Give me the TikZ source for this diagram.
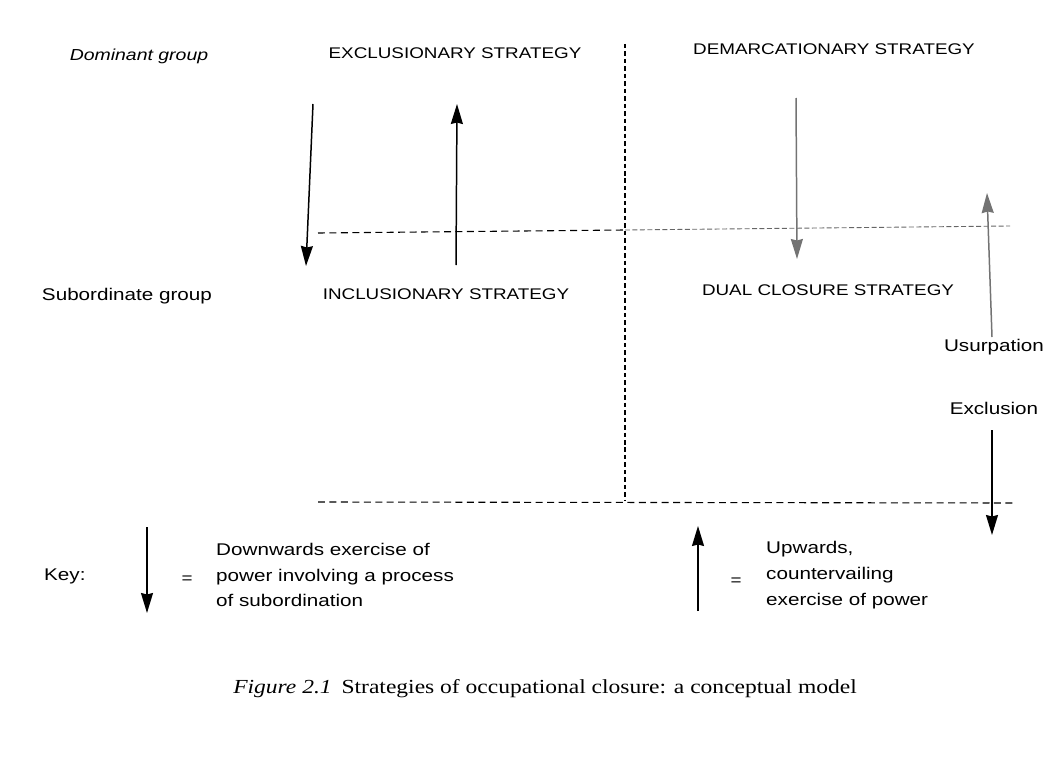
\documentclass[tikz,border=0pt]{standalone}
\usepackage{fontspec}
\setmainfont{Liberation Sans}[FakeStretch=1.22]
\newfontfamily\capfont{Liberation Serif}[FakeStretch=1.18]
\usetikzlibrary{arrows.meta}
\begin{document}
\begin{tikzpicture}[x=1bp,y=-1bp,
  head/.style={inner sep=0pt, font=\fontsize{15.5}{18}\selectfont},
  lbl/.style={inner sep=0pt, font=\fontsize{17}{20}\selectfont},
  keytxt/.style={inner sep=0pt, align=left, anchor=west, font=\fontsize{17}{26}\selectfont},
  divider/.style={line width=1.1pt, dash pattern=on 7pt off 4.5pt},
  vdivider/.style={line width=1.1pt, dash pattern=on 4.5pt off 3pt},
  fdivider/.style={line width=0.9pt, draw=black!60, dash pattern=on 5pt off 2.5pt},
  power/.style={line width=1.5pt, -{Stealth[length=20bp,width=12bp,inset=1.5bp]}},
  faint/.style={power, draw=black!55, fill=black!55}]
\useasboundingbox (0,0) rectangle (1048,764);
% headings
\node[lbl, font=\fontsize{16}{18}\selectfont\itshape] (dom) at (139,56) {Dominant group};
\node[head] (excl) at (455,53) {EXCLUSIONARY STRATEGY};
\node[head] (dem) at (834,49) {DEMARCATIONARY STRATEGY};
\node[lbl] (sub) at (127,296) {Subordinate group};
\node[head] (incl) at (446,294) {INCLUSIONARY STRATEGY};
\node[head] (dual) at (828,290) {DUAL CLOSURE STRATEGY};
\node[lbl] (usurp) at (994,347) {Usurpation};
\node[lbl] (exclu) at (994,408) {Exclusion};
% dividers
\coordinate (vT) at (625,44); \coordinate (vB) at (625,500);
\coordinate (h1L) at (318,233); \coordinate (h1M) at (625,230); \coordinate (h1R) at (1010,226);
\coordinate (h2L) at (318,502); \coordinate (h2R) at (1015,503);
\draw[vdivider] (vT) -- (vB);
\draw[divider] (h1L) -- (h1M);
\draw[fdivider] (h1M) -- (h1R);
\draw[divider] (h2L) -- (h2R);
% arrows
\coordinate (a1s) at (313,104); \coordinate (a1e) at (306,266);
\coordinate (a2s) at (456,265); \coordinate (a2e) at (457,104);
\coordinate (a3s) at (796,98);  \coordinate (a3e) at (797,259);
\coordinate (a4s) at (992,337); \coordinate (a4e) at (987,193);
\coordinate (a5s) at (992,430); \coordinate (a5e) at (992,535);
\draw[power] (a1s) -- (a1e);
\draw[power] (a2s) -- (a2e);
\draw[faint] (a3s) -- (a3e);
\draw[faint] (a4s) -- (a4e);
\draw[power] (a5s) -- (a5e);
% key
\node[lbl, anchor=west] (key) at (44,576) {Key:};
\coordinate (k1s) at (147,527); \coordinate (k1e) at (147,613);
\draw[power] (k1s) -- (k1e);
\node[head] (eq1) at (187,580) {=};
\node[keytxt] (kd) at (216,575) {Downwards exercise of\\power involving a process\\of subordination};
\coordinate (k2s) at (698,611); \coordinate (k2e) at (698,526);
\draw[power] (k2s) -- (k2e);
\node[head] (eq2) at (736,582) {=};
\node[keytxt] (ku) at (766,575) {Upwards,\\countervailing\\exercise of power};
% caption
\node[inner sep=0pt, font=\capfont\fontsize{20}{22}\selectfont] (cap) at (545,689) {\textit{Figure 2.1}\enspace Strategies of occupational closure: a conceptual model};
\end{tikzpicture}
\end{document}
